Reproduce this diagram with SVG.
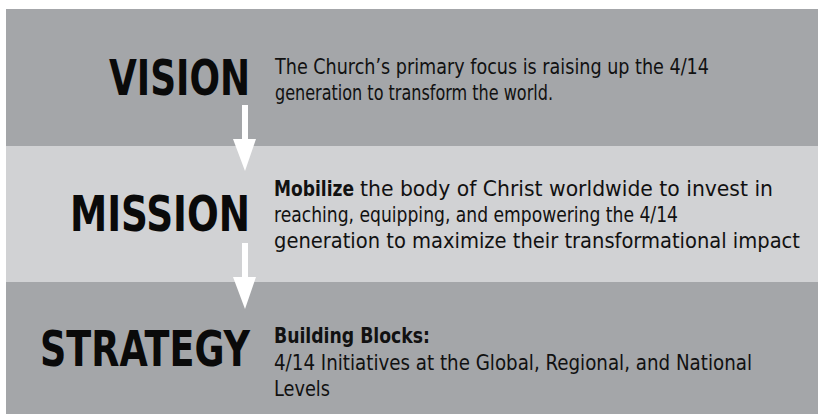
<svg xmlns="http://www.w3.org/2000/svg" width="818" height="414" viewBox="0 0 818 414">
<style>
.dark{fill:#a4a6a9}
.light{fill:#d1d2d4}
.head{font-family:"DejaVu Sans Condensed","Liberation Sans Narrow",sans-serif;font-weight:bold;font-size:49px;fill:#0a0a0a}
.body{font-family:"DejaVu Sans Condensed","Liberation Sans Narrow",sans-serif;font-size:21px;fill:#111}
.b{font-weight:bold}
.arrow{fill:#fff}
</style>
<rect width="818" height="414" fill="#fff"/>
<g id="vision">
<rect class="dark" x="6" y="9" width="812" height="137"/>
<text class="head" x="109" y="95" textLength="141" lengthAdjust="spacingAndGlyphs">VISION</text>
<text class="body" x="275" y="74" textLength="434" lengthAdjust="spacingAndGlyphs">The Church’s primary focus is raising up the 4/14</text>
<text class="body" x="275" y="100" textLength="278" lengthAdjust="spacingAndGlyphs">generation to transform the world.</text>
</g>
<g id="mission">
<rect class="light" x="6" y="146" width="812" height="136"/>
<text class="head" x="70" y="231" textLength="180" lengthAdjust="spacingAndGlyphs">MISSION</text>
<text class="body b" x="274" y="196" textLength="80" lengthAdjust="spacingAndGlyphs">Mobilize</text>
<text class="body" x="360" y="196" textLength="413" lengthAdjust="spacingAndGlyphs">the body of Christ worldwide to invest in</text>
<text class="body" x="274" y="222" textLength="404" lengthAdjust="spacingAndGlyphs">reaching, equipping, and empowering the 4/14</text>
<text class="body" x="274" y="248" textLength="526" lengthAdjust="spacingAndGlyphs">generation to maximize their transformational impact</text>
</g>
<g id="strategy">
<rect class="dark" x="6" y="282" width="812" height="132"/>
<text class="head" x="40" y="366" textLength="210" lengthAdjust="spacingAndGlyphs">STRATEGY</text>
<text class="body b" x="274" y="343" textLength="156" lengthAdjust="spacingAndGlyphs">Building Blocks:</text>
<text class="body" x="274" y="370" textLength="478" lengthAdjust="spacingAndGlyphs">4/14 Initiatives at the Global, Regional, and National</text>
<text class="body" x="274" y="396" textLength="56" lengthAdjust="spacingAndGlyphs">Levels</text>
</g>
<g id="connectors">
<path class="arrow" d="M242,105 H248 V139 H256 L245,171 L233,139 H242 Z"/>
<path class="arrow" d="M242,243 H248 V277 H256 L245,309 L233,277 H242 Z"/>
</g>
</svg>
